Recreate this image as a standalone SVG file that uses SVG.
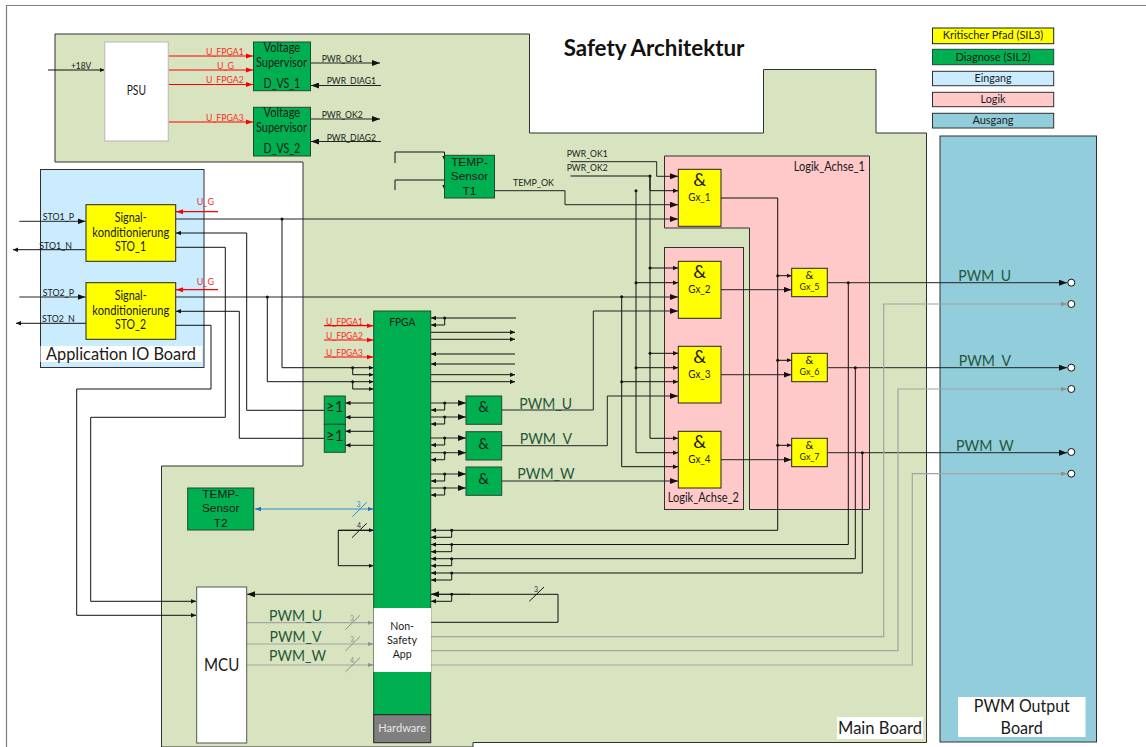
<svg xmlns="http://www.w3.org/2000/svg" width="1146" height="747" viewBox="0 0 1146 747">
<style>
text{font-family:Lato,"Liberation Sans",sans-serif;fill:#1a1a1a;font-size:11px}
.s8{font-size:10px}.s11{font-size:13px}.s16{font-size:17px}
.red{fill:#ff2a2a;font-size:10px}
.arial{font-family:"Liberation Sans",Arial,sans-serif;font-size:11.8px}
.pwm{fill:#24573a;font-size:15.5px}
.tick{font-size:7px;fill:#333}
.board{stroke:#303030;stroke-width:1}
.g{fill:#00b050;stroke:#1f4a32;stroke-width:1}
.y{fill:#ffff00;stroke:#222;stroke-width:1}
.w{fill:#fff;stroke:#8c8c8c;stroke-width:1}
.k{fill:none;stroke:#111;stroke-width:1}
.ka{fill:none;stroke:#111;stroke-width:1;marker-end:url(#as)}
.kb{fill:none;stroke:#222;stroke-width:1;marker-end:url(#ab)}
.r{fill:none;stroke:#ff0000;stroke-width:1.2;marker-end:url(#ar)}
.gra{fill:none;stroke:#a3a3a3;stroke-width:1.2;marker-end:url(#ag)}
.dot{fill:#111}
.io{fill:#fff;stroke:#111;stroke-width:1}
</style>
<defs>
<marker id="as" markerUnits="userSpaceOnUse" markerWidth="5" markerHeight="5" refX="5" refY="2.5" orient="auto"><path d="M0,0.3L5,2.5L0,4.7z" fill="#111"/></marker>
<marker id="ab" markerUnits="userSpaceOnUse" markerWidth="8" markerHeight="6" refX="8" refY="3" orient="auto"><path d="M0,0L8,3L0,6z" fill="#111"/></marker>
<marker id="ar" markerUnits="userSpaceOnUse" markerWidth="7" markerHeight="6" refX="7" refY="3" orient="auto"><path d="M0,0.5L7,3L0,5.5z" fill="#ff0000"/></marker>
<marker id="ag" markerUnits="userSpaceOnUse" markerWidth="6" markerHeight="5" refX="6" refY="2.5" orient="auto"><path d="M0,0.3L6,2.5L0,4.7z" fill="#8f8f8f"/></marker>
<marker id="abl" markerUnits="userSpaceOnUse" markerWidth="6" markerHeight="5" refX="6" refY="2.5" orient="auto"><path d="M0,0.3L6,2.5L0,4.7z" fill="#0f77c4"/></marker>
<marker id="abls" markerUnits="userSpaceOnUse" markerWidth="6" markerHeight="5" refX="0" refY="2.5" orient="auto"><path d="M6,0.3L0,2.5L6,4.7z" fill="#0f77c4"/></marker>
</defs>
<rect width="1146" height="747" fill="#fff"/>
<path d="M1146,5.5H6.5V747" fill="none" stroke="#7f7f7f" stroke-width="1.2"/>

<g id="main-board"><path class="board" fill="#d8e4bf" d="M55,34H529.5V133H763.5V69.5H876V133H926.5V742.5H473V747H161.5V466H303V162H55z"/></g>
<g id="application-io-board"><rect class="board" fill="#cbecff" x="40.5" y="169.5" width="163.5" height="198"/></g>
<g id="pwm-output-board"><rect class="board" fill="#92cddc" x="940" y="136" width="156.5" height="606"/></g>
<g id="logik-achse-1"><path class="board" fill="#ffc9c9" d="M664.5,156H869.5V509.5H749.5V228H664.5z"/></g>
<g id="logik-achse-2"><rect class="board" fill="#ffc9c9" x="664.5" y="247.5" width="79" height="262"/></g>

<g id="connectors">
<path class="ka" d="M48,70H104.5"/>
<path class="r" d="M168.5,56H253"/><path class="r" d="M168.5,70H253"/><path class="r" d="M168.5,84.5H253"/><path class="r" d="M168.5,122H253"/>
<path class="kb" d="M310.5,63H380"/><path class="kb" d="M381,85.5H311"/><path class="kb" d="M310.5,119H380"/><path class="kb" d="M381,141.5H311"/>
<path class="ka" d="M395,163V152H444.5V161"/><path class="ka" d="M395,190V180H444.5V190"/>
<path class="kb" d="M494,190.7H565V204.7H678"/>
<path class="kb" d="M570.5,161.7H656.7V176.3H678"/>
<path class="k" d="M570.5,176H650"/>
<path class="ka" d="M650,176V190.7H678"/>
<path class="ka" d="M650,176V438.3H678"/><path class="ka" d="M650,268H678"/><path class="ka" d="M650,353.3H678"/>
<path class="ka" d="M636,190.7V452.7H678"/><path class="ka" d="M636,282.7H678"/><path class="ka" d="M636,367.7H678"/>
<path class="kb" d="M176,219H678"/>
<path class="kb" d="M176,297H678"/>
<path class="ka" d="M621.7,296.7V466.7H678"/><path class="ka" d="M621.7,381.7H678"/>
<path class="kb" d="M501.7,410H593.3V311H678"/>
<path class="kb" d="M501.7,445.7H607.3V396H678"/>
<path class="kb" d="M501.7,481H678"/>
<path class="kb" d="M431,403H466"/><path class="ka" d="M444.7,403V410H431"/>
<path class="kb" d="M431,417H466"/><path class="ka" d="M444.7,417V424H431"/>
<path class="kb" d="M431,438H466"/><path class="ka" d="M444.7,438V445H431"/>
<path class="kb" d="M431,452.7H466"/><path class="ka" d="M444.7,452.7V459.7H431"/>
<path class="kb" d="M431,474H466"/><path class="ka" d="M444.7,474V481H431"/>
<path class="kb" d="M431,488H466"/><path class="ka" d="M444.7,488V495H431"/>
<path class="ka" d="M516,318H431"/><path class="ka" d="M444.7,318V325H431"/>
<path class="ka" d="M431,332.3H515"/><path class="ka" d="M431,339.3H515"/>
<path class="ka" d="M515,354H431"/><path class="ka" d="M515,364H431"/>
<path class="ka" d="M431,374.7H515"/><path class="ka" d="M431,381.7H515"/>
<path class="r" d="M324,325.7H373.5"/><path class="r" d="M324,340H373.5"/><path class="r" d="M324,357H373.5"/>
<path class="ka" d="M282,219V367.7H373.5"/><path class="ka" d="M352.7,367.7V374.7H373.5"/>
<path class="ka" d="M267.3,297V381.7H373.5"/><path class="ka" d="M352.7,381.7V389H373.5"/>
<path class="ka" d="M373.5,403H345.5"/><path class="ka" d="M373.5,417.3H345.5"/><path class="ka" d="M373.5,431.3H345.5"/><path class="ka" d="M373.5,445.3H345.5"/>
<path class="ka" d="M324,410.3H246.7V233H176"/>
<path class="ka" d="M324,438.3H239.3V311.3H176"/>
<path class="kb" d="M19.3,221.3H85.5"/><path class="ka" d="M85,249.7H13"/>
<path class="kb" d="M19.3,297H85.5"/><path class="ka" d="M86,323.3H16"/>
<path class="r" d="M218,211.7H176"/><path class="r" d="M218,289.7H176"/>
<path class="ka" d="M176,247.3H225.3V417.3H90.7V601.3H196"/>
<path class="ka" d="M176,325.3H211V389H76.7V615.3H196"/>
<path class="kb" d="M373.5,594.3H247"/>
<path class="gra" d="M247,622.7H373.5"/><path class="gra" d="M247,644H373.5"/><path class="gra" d="M247,665H373.5"/>
<path d="M255,509H373.5" fill="none" stroke="#2e8bc9" stroke-width="1.2" marker-start="url(#abls)" marker-end="url(#abl)"/>
<path class="ka" d="M373.5,530.3H338.3V565.7H373.5"/>
<path class="ka" d="M338.3,530.3H373.5"/>
<path class="ka" d="M721,198H777.7V530.3H431"/>
<path class="ka" d="M451.7,530.3V537.3H431"/>
<path class="ka" d="M848.3,282.7V544.5H431"/><path class="ka" d="M451.7,544.5V551.7H431"/>
<path class="ka" d="M855.3,367.7V558.7H431"/><path class="ka" d="M451.7,558.7V565.7H431"/>
<path class="ka" d="M862.3,452.7V573H431"/><path class="ka" d="M451.7,573V580H431"/>
<path class="ka" d="M777.7,275.7H791.5"/><path class="ka" d="M777.7,360.3H791.5"/><path class="ka" d="M777.7,445.3H791.5"/>
<path class="kb" d="M721,289.7H791.5"/><path class="kb" d="M721,374.7H791.5"/><path class="kb" d="M721,459.7H791.5"/>
<path class="kb" d="M827.5,282.7H1067"/><path class="kb" d="M827.5,367.7H1067"/><path class="kb" d="M827.5,452.7H1067"/>
<path class="gra" d="M430.7,636.7H883.7V304H1067"/>
<path class="gra" d="M430.7,650.7H898V389H1067"/>
<path class="gra" d="M430.7,665H912.3V473.7H1067"/>
<path class="k" d="M430.7,622.3H558V594.3H431"/>
<path class="kb" d="M470,594.3H431"/>
<path class="ka" d="M451.7,594.3V601.3H431"/>
<g class="dot">
<circle cx="650" cy="176" r="1.5"/><circle cx="650" cy="268" r="1.5"/><circle cx="650" cy="353.3" r="1.5"/>
<circle cx="636" cy="190.7" r="1.5"/><circle cx="636" cy="282.7" r="1.5"/><circle cx="636" cy="367.7" r="1.5"/>
<circle cx="621.7" cy="296.7" r="1.5"/><circle cx="621.7" cy="381.7" r="1.5"/>
<circle cx="444.7" cy="318" r="1.5"/><circle cx="444.7" cy="403" r="1.5"/><circle cx="444.7" cy="417" r="1.5"/><circle cx="444.7" cy="438" r="1.5"/><circle cx="444.7" cy="452.7" r="1.5"/><circle cx="444.7" cy="474" r="1.5"/><circle cx="444.7" cy="488" r="1.5"/>
<circle cx="282" cy="219" r="1.5"/><circle cx="267.3" cy="297" r="1.5"/><circle cx="352.7" cy="367.7" r="1.5"/><circle cx="352.7" cy="381.7" r="1.5"/>
<circle cx="451.7" cy="530.3" r="1.5"/><circle cx="451.7" cy="544.5" r="1.5"/><circle cx="451.7" cy="558.7" r="1.5"/><circle cx="451.7" cy="573" r="1.5"/><circle cx="451.7" cy="594.3" r="1.5"/>
<circle cx="777.7" cy="275.7" r="1.5"/><circle cx="777.7" cy="360.3" r="1.5"/><circle cx="777.7" cy="445.3" r="1.5"/>
<circle cx="848.3" cy="282.7" r="1.5"/><circle cx="855.3" cy="367.7" r="1.5"/><circle cx="862.3" cy="452.7" r="1.5"/>
</g>
<g>
<path d="M345.3,629.7L360,615.3M345.3,651L360,636.6M345.3,672L360,657.6" stroke="#8f8f8f" fill="none"/>
<path d="M352.3,516.7L366.7,502.3" stroke="#2e8bc9" fill="none"/>
<path d="M352,537.7L366.7,523.3M529.3,601.3L544,587" stroke="#111" fill="none"/>
<text class="tick" x="350" y="621" style="fill:#8f8f8f">3</text><text class="tick" x="350" y="642" style="fill:#8f8f8f">3</text><text class="tick" x="350" y="663" style="fill:#8f8f8f">4</text>
<text class="tick" x="356.5" y="507" style="fill:#2e8bc9">3</text><text class="tick" x="357" y="528">4</text><text class="tick" x="534" y="592">3</text>
</g>
<g>
<circle class="io" cx="1071.3" cy="282.7" r="3.5"/><circle class="io" cx="1071.3" cy="304" r="3.5"/><circle class="io" cx="1071.3" cy="367.7" r="3.5"/><circle class="io" cx="1071.3" cy="389" r="3.5"/><circle class="io" cx="1071.3" cy="452" r="3.5"/><circle class="io" cx="1071.3" cy="473.7" r="3.5"/>
</g>
<g class="labels">
<text class="s8" x="71" y="69" textLength="20.3" lengthAdjust="spacingAndGlyphs">+18V</text>
<text class="red" x="206" y="55" textLength="37.7" lengthAdjust="spacingAndGlyphs">U_FPGA1</text>
<text class="red" x="217" y="69" textLength="17" lengthAdjust="spacingAndGlyphs">U_G</text>
<text class="red" x="206" y="82.7" textLength="37.7" lengthAdjust="spacingAndGlyphs">U_FPGA2</text>
<text class="red" x="206" y="120.7" textLength="37.7" lengthAdjust="spacingAndGlyphs">U_FPGA3</text>
<text class="s8" x="321.7" y="62" textLength="41" lengthAdjust="spacingAndGlyphs">PWR_OK1</text>
<text class="s8" x="326.7" y="84" textLength="49.3" lengthAdjust="spacingAndGlyphs">PWR_DIAG1</text>
<text class="s8" x="321.7" y="118" textLength="41" lengthAdjust="spacingAndGlyphs">PWR_OK2</text>
<text class="s8" x="326.7" y="141" textLength="49.3" lengthAdjust="spacingAndGlyphs">PWR_DIAG2</text>
<text class="s8" x="566.7" y="156.7" textLength="41" lengthAdjust="spacingAndGlyphs">PWR_OK1</text>
<text class="s8" x="566.7" y="170.7" textLength="41" lengthAdjust="spacingAndGlyphs">PWR_OK2</text>
<text class="s8" x="513" y="186" textLength="41" lengthAdjust="spacingAndGlyphs">TEMP_OK</text>
<text class="s8" x="42.7" y="220" textLength="31.3" lengthAdjust="spacingAndGlyphs">STO1_P</text>
<text class="s8" x="39.3" y="249" textLength="32.7" lengthAdjust="spacingAndGlyphs">STO1_N</text>
<text class="s8" x="42.7" y="295.7" textLength="31.3" lengthAdjust="spacingAndGlyphs">STO2_P</text>
<text class="s8" x="42" y="321.7" textLength="32.7" lengthAdjust="spacingAndGlyphs">STO2_N</text>
<text class="red" x="196.7" y="205" textLength="17.3" lengthAdjust="spacingAndGlyphs">U_G</text>
<text class="red" x="196.7" y="285" textLength="17.3" lengthAdjust="spacingAndGlyphs">U_G</text>
<text class="red" x="326" y="324.7" textLength="37" lengthAdjust="spacingAndGlyphs">U_FPGA1</text>
<text class="red" x="326" y="338.7" textLength="37" lengthAdjust="spacingAndGlyphs">U_FPGA2</text>
<text class="red" x="326" y="356" textLength="37" lengthAdjust="spacingAndGlyphs">U_FPGA3</text>
<text class="pwm" x="519.3" y="408.7" textLength="52.7" lengthAdjust="spacingAndGlyphs">PWM_U</text>
<text class="pwm" x="519.7" y="444" textLength="52.3" lengthAdjust="spacingAndGlyphs">PWM_V</text>
<text class="pwm" x="517.3" y="479" textLength="57.4" lengthAdjust="spacingAndGlyphs">PWM_W</text>
<text class="pwm" x="269" y="621" textLength="53" lengthAdjust="spacingAndGlyphs">PWM_U</text>
<text class="pwm" x="269.5" y="642" textLength="52" lengthAdjust="spacingAndGlyphs">PWM_V</text>
<text class="pwm" x="269" y="661" textLength="57" lengthAdjust="spacingAndGlyphs">PWM_W</text>
<text class="pwm" x="958.3" y="280.7" textLength="52.7" lengthAdjust="spacingAndGlyphs">PWM_U</text>
<text class="pwm" x="958.7" y="366" textLength="52.3" lengthAdjust="spacingAndGlyphs">PWM_V</text>
<text class="pwm" x="956" y="450.7" textLength="57.7" lengthAdjust="spacingAndGlyphs">PWM_W</text>
</g>
</g>

<g id="psu"><rect fill="#fff" stroke="#bfbfbf" stroke-width="1.2" x="104.7" y="42" width="63.6" height="99"/><text x="126.7" y="95" style="font-size:12.5px" textLength="19.3" lengthAdjust="spacingAndGlyphs">PSU</text></g>
<g id="d-vs-1"><rect class="g" x="253.5" y="42" width="57" height="48.7"/><text x="263.5" y="52.3" class="s11" textLength="36.7" lengthAdjust="spacingAndGlyphs">Voltage</text><text x="256" y="67.3" class="s11" textLength="51" lengthAdjust="spacingAndGlyphs">Supervisor</text><text x="263.5" y="88" class="s11" textLength="36.7" lengthAdjust="spacingAndGlyphs">D_VS_1</text></g>
<g id="d-vs-2"><rect class="g" x="253.5" y="107.3" width="57" height="48.7"/><text x="263.5" y="117.3" class="s11" textLength="36.7" lengthAdjust="spacingAndGlyphs">Voltage</text><text x="256" y="132.3" class="s11" textLength="51" lengthAdjust="spacingAndGlyphs">Supervisor</text><text x="263.5" y="153.3" class="s11" textLength="36.7" lengthAdjust="spacingAndGlyphs">D_VS_2</text></g>
<g id="temp-sensor-t1"><rect class="g" x="444.5" y="155.3" width="50" height="42.7"/><text class="arial" x="469.5" y="165.7" text-anchor="middle">TEMP-</text><text class="arial" x="469.5" y="180" text-anchor="middle">Sensor</text><text class="arial" x="469.5" y="195" text-anchor="middle">T1</text></g>
<g id="temp-sensor-t2"><rect class="g" x="187.7" y="488" width="66" height="42"/><text class="arial" x="220.7" y="498" text-anchor="middle">TEMP-</text><text class="arial" x="220.7" y="512" text-anchor="middle">Sensor</text><text class="arial" x="220.7" y="526.7" text-anchor="middle">T2</text></g>
<g id="sig-sto-1"><rect class="y" x="86" y="204.7" width="89.7" height="56.6"/><text x="114.7" y="222.3" class="s11" textLength="32" lengthAdjust="spacingAndGlyphs">Signal-</text><text x="92.3" y="236.7" class="s11" textLength="77" lengthAdjust="spacingAndGlyphs">konditionierung</text><text x="115" y="251.3" class="s11" textLength="31" lengthAdjust="spacingAndGlyphs">STO_1</text></g>
<g id="sig-sto-2"><rect class="y" x="86" y="282.7" width="89.7" height="56.6"/><text x="114.7" y="300.3" class="s11" textLength="32" lengthAdjust="spacingAndGlyphs">Signal-</text><text x="92.3" y="315" class="s11" textLength="77" lengthAdjust="spacingAndGlyphs">konditionierung</text><text x="115" y="329.3" class="s11" textLength="31" lengthAdjust="spacingAndGlyphs">STO_2</text></g>
<g id="fpga"><rect class="g" x="373.7" y="311" width="57" height="404"/><text x="389.3" y="325.7" textLength="26" lengthAdjust="spacingAndGlyphs">FPGA</text></g>
<g id="non-safety-app"><rect fill="#fff" x="373.7" y="608" width="57.3" height="64"/><text x="390.3" y="630" textLength="23.7" lengthAdjust="spacingAndGlyphs">Non-</text><text x="387" y="644" textLength="30" lengthAdjust="spacingAndGlyphs">Safety</text><text x="392.7" y="658" textLength="19" lengthAdjust="spacingAndGlyphs">App</text></g>
<g id="hardware"><rect fill="#7f7f7f" stroke="#222" x="373.7" y="714.7" width="57" height="28"/><text x="378.3" y="732" style="fill:#e8e8e8" textLength="47.7" lengthAdjust="spacingAndGlyphs">Hardware</text></g>
<g id="mcu"><rect fill="#fff" stroke="#555" x="196.7" y="587" width="50" height="156"/><text x="204" y="671" class="s16" textLength="35.3" lengthAdjust="spacingAndGlyphs">MCU</text></g>
<g id="or-1"><rect class="g" x="324.3" y="396" width="21" height="28.3"/><text x="334.8" y="412.3" text-anchor="middle" style="font-size:15px">≥1</text></g>
<g id="or-2"><rect class="g" x="324.3" y="424.3" width="21" height="28"/><text x="334.8" y="440.7" text-anchor="middle" style="font-size:15px">≥1</text></g>
<g id="and-u"><rect class="g" x="466" y="396" width="35.7" height="28.3"/><text x="483.7" y="411.7" text-anchor="middle" style="font-size:15px">&amp;</text></g>
<g id="and-v"><rect class="g" x="466" y="431.7" width="35.7" height="28.3"/><text x="483.7" y="448.7" text-anchor="middle" style="font-size:15px">&amp;</text></g>
<g id="and-w"><rect class="g" x="466" y="467" width="35.7" height="28.3"/><text x="483.7" y="484" text-anchor="middle" style="font-size:15px">&amp;</text></g>
<g id="gx-1"><rect class="y" x="678.3" y="169.3" width="42.7" height="57"/><text x="699.7" y="186" text-anchor="middle" style="font-size:18px">&amp;</text><text x="688.3" y="201" textLength="22.3" lengthAdjust="spacingAndGlyphs">Gx_1</text></g>
<g id="gx-2"><rect class="y" x="678.3" y="261.3" width="42.7" height="57"/><text x="699.7" y="278" text-anchor="middle" style="font-size:18px">&amp;</text><text x="688.3" y="293" textLength="22.3" lengthAdjust="spacingAndGlyphs">Gx_2</text></g>
<g id="gx-3"><rect class="y" x="678.3" y="346.3" width="42.7" height="56.7"/><text x="699.7" y="363" text-anchor="middle" style="font-size:18px">&amp;</text><text x="688.3" y="378" textLength="22.3" lengthAdjust="spacingAndGlyphs">Gx_3</text></g>
<g id="gx-4"><rect class="y" x="678.3" y="431.3" width="42.7" height="56.7"/><text x="699.7" y="448" text-anchor="middle" style="font-size:18px">&amp;</text><text x="688.3" y="463" textLength="22.3" lengthAdjust="spacingAndGlyphs">Gx_4</text></g>
<g id="gx-5"><rect class="y" x="791.7" y="268.3" width="35.6" height="28.4"/><text x="809.5" y="279" text-anchor="middle" style="font-size:11px">&amp;</text><text x="799.5" y="289.5" style="font-size:9px" textLength="20" lengthAdjust="spacingAndGlyphs">Gx_5</text></g>
<g id="gx-6"><rect class="y" x="791.7" y="353.3" width="35.6" height="28.4"/><text x="809.5" y="364" text-anchor="middle" style="font-size:11px">&amp;</text><text x="799.5" y="374.5" style="font-size:9px" textLength="20" lengthAdjust="spacingAndGlyphs">Gx_6</text></g>
<g id="gx-7"><rect class="y" x="791.7" y="438.3" width="35.6" height="28.4"/><text x="809.5" y="449" text-anchor="middle" style="font-size:11px">&amp;</text><text x="799.5" y="459.5" style="font-size:9px" textLength="20" lengthAdjust="spacingAndGlyphs">Gx_7</text></g>

<g id="board-labels">
<text x="793.7" y="170.7" style="font-size:13px" textLength="71.3" lengthAdjust="spacingAndGlyphs">Logik_Achse_1</text>
<text x="667.7" y="501.7" style="font-size:13px" textLength="71.3" lengthAdjust="spacingAndGlyphs">Logik_Achse_2</text>
<rect fill="#fff" x="40.5" y="346" width="161.5" height="16"/>
<text x="46" y="360" class="s16" textLength="150" lengthAdjust="spacingAndGlyphs">Application IO Board</text>
<rect fill="#fff" x="837" y="717" width="86" height="22"/>
<text x="838" y="734" class="s16" textLength="84" lengthAdjust="spacingAndGlyphs">Main Board</text>
<rect fill="#fff" x="958" y="697" width="127.5" height="40"/>
<text x="973.8" y="712" class="s16" textLength="96" lengthAdjust="spacingAndGlyphs">PWM Output</text>
<text x="1000.6" y="733.7" class="s16" textLength="42.1" lengthAdjust="spacingAndGlyphs">Board</text>
</g>
<text x="563.7" y="56" style="font-size:22px;font-weight:700;fill:#111" textLength="180.7" lengthAdjust="spacingAndGlyphs">Safety Architektur</text>
<g id="legend">
<rect class="y" x="932.5" y="28" width="121.2" height="15.7"/><text x="942.7" y="38.7" textLength="100.6" lengthAdjust="spacingAndGlyphs">Kritischer Pfad (SIL3)</text>
<rect class="g" x="932.5" y="49.3" width="121.2" height="15.4"/><text x="955.5" y="61" textLength="75" lengthAdjust="spacingAndGlyphs">Diagnose (SIL2)</text>
<rect class="board" fill="#cbecff" x="932.5" y="71.3" width="121.2" height="14.4"/><text x="974.5" y="82" textLength="37" lengthAdjust="spacingAndGlyphs">Eingang</text>
<rect class="board" fill="#ffc9c9" x="932.5" y="92.3" width="121.2" height="14.4"/><text x="980.5" y="102.7" textLength="25" lengthAdjust="spacingAndGlyphs">Logik</text>
<rect class="board" fill="#92cddc" x="932.5" y="113.3" width="121.2" height="14.7"/><text x="972.5" y="124" textLength="41" lengthAdjust="spacingAndGlyphs">Ausgang</text>
</g>
</svg>
